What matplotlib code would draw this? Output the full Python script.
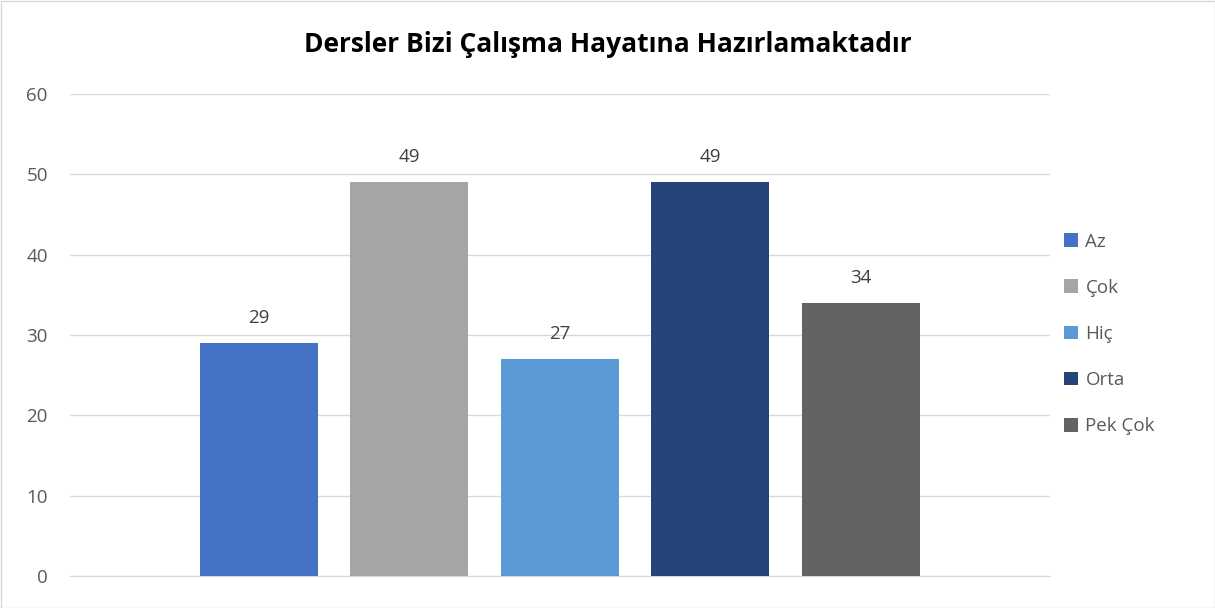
import matplotlib.pyplot as plt
from matplotlib.patches import Rectangle

categories = ["Az", "Çok", "Hiç", "Orta", "Pek Çok"]
counts = [29, 49, 27, 49, 34]
colors = ["#4472C4", "#A5A5A5", "#5B9BD5", "#264478", "#636363"]
yticks = [0, 10, 20, 30, 40, 50, 60]
title = "Dersler Bizi Çalışma Hayatına Hazırlamaktadır"

plt.rcParams['font.family'] = ['Open Sans', 'DejaVu Sans']

fig = plt.figure(figsize=(12.15, 6.08), dpi=100)
ax = fig.add_axes([70 / 1215, 1 - 576 / 608, 980 / 1215, (576 - 94) / 608])

handles = []
for i, (cat, val, col) in enumerate(zip(categories, counts, colors)):
    b = ax.bar(i, val, width=0.785, color=col, label=cat, zorder=3)
    handles.append(b)
    ax.text(i, val + 2.0, str(val), ha='center', va='bottom', fontsize=13.5, color='#404040')

ax.set_xlim(-1.257, 5.26)
ax.set_ylim(0, 60)
ax.set_yticks(yticks)
ax.set_xticks([])
ax.tick_params(axis='y', length=0, labelsize=13.5, labelcolor='#595959', pad=16)
ax.grid(axis='y', color='#D9D9D9', linewidth=1, zorder=0)
for s in ['top', 'right', 'left']:
    ax.spines[s].set_visible(False)
ax.spines['bottom'].set_color('#D9D9D9')

fig.text(0.5, 1 - 45 / 608, title, ha='center', va='center', fontsize=19,
         fontweight='bold', color='black')

leg = fig.legend(handles=handles, labels=categories, loc='center left',
                 bbox_to_anchor=(1047 / 1215, 1 - 334 / 608), frameon=False,
                 fontsize=13.5, labelcolor='#595959', handlelength=0.75,
                 handleheight=0.75, handletextpad=0.4, labelspacing=1.5)

fig.patches.append(Rectangle((0.5 / 1215, 0.5 / 608), 1 - 1 / 1215, 1 - 1 / 608,
                             transform=fig.transFigure, fill=False,
                             edgecolor='#D9D9D9', linewidth=1))

fig.savefig("out.png", dpi=100)
